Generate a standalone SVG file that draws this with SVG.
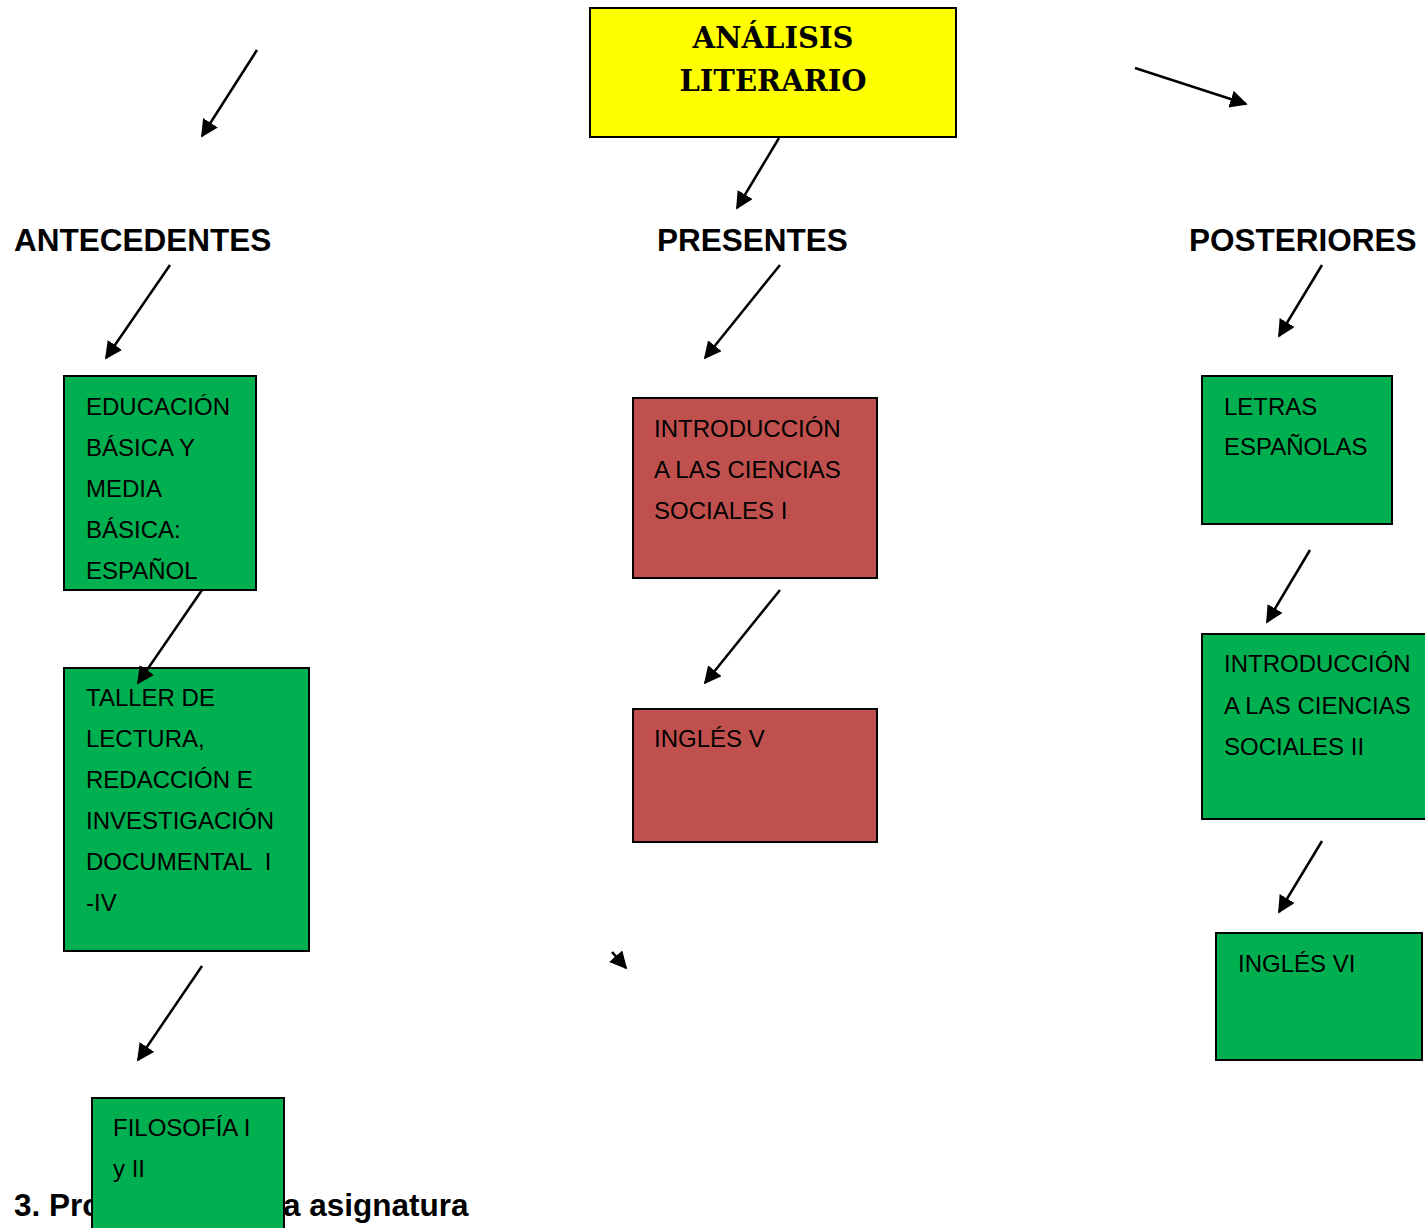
<svg xmlns="http://www.w3.org/2000/svg" width="1425" height="1228" viewBox="0 0 1425 1228">
<defs>
<style>
.box{stroke:#000;stroke-width:2}
.green{fill:#00B050}
.red{fill:#C0504D}
.yellow{fill:#FFFF00}
.t{font-family:"Liberation Sans",Arial,sans-serif;font-size:24px;fill:#000}
.h{font-family:"Liberation Sans",Arial,sans-serif;font-size:31.5px;font-weight:bold;fill:#000}
.title{font-family:"DejaVu Serif","Liberation Serif",serif;font-size:29px;font-weight:bold;fill:#000;text-anchor:middle}
.c line{stroke:#000;stroke-width:2.5;marker-end:url(#ah)}
</style>
<marker id="ah" viewBox="0 0 10 10" refX="9" refY="5" markerWidth="7" markerHeight="7" orient="auto" markerUnits="strokeWidth">
<path d="M0,0 L10,5 L0,10 z" fill="#000"/>
</marker>
</defs>
<rect width="1425" height="1228" fill="#fff"/>

<text class="h" x="14" y="1216">3. Pro</text>
<text class="h" x="283" y="1216">a asignatura</text>

<g id="analisis">
<rect class="box yellow" x="590" y="8" width="366" height="129"/>
<text class="title" x="773" y="48">ANÁLISIS</text>
<text class="title" x="773" y="91">LITERARIO</text>
</g>

<g id="antecedentes"><text class="h" x="14" y="251">ANTECEDENTES</text></g>
<g id="presentes"><text class="h" x="657" y="251">PRESENTES</text></g>
<g id="posteriores"><text class="h" x="1189" y="251">POSTERIORES</text></g>

<g id="educacion">
<rect class="box green" x="64" y="376" width="192" height="214"/>
<text class="t" x="86" y="415">EDUCACIÓN</text>
<text class="t" x="86" y="456">BÁSICA Y</text>
<text class="t" x="86" y="497">MEDIA</text>
<text class="t" x="86" y="538">BÁSICA:</text>
<text class="t" x="86" y="579">ESPAÑOL</text>
</g>

<g id="taller">
<rect class="box green" x="64" y="668" width="245" height="283"/>
<text class="t" x="86" y="706">TALLER DE</text>
<text class="t" x="86" y="747">LECTURA,</text>
<text class="t" x="86" y="788">REDACCIÓN E</text>
<text class="t" x="86" y="829">INVESTIGACIÓN</text>
<text class="t" x="86" y="870" xml:space="preserve">DOCUMENTAL  I</text>
<text class="t" x="86" y="911">-IV</text>
</g>

<g id="filosofia">
<rect class="box green" x="92" y="1098" width="192" height="140"/>
<text class="t" x="113" y="1136">FILOSOFÍA I</text>
<text class="t" x="113" y="1177">y II</text>
</g>

<g id="intro1">
<rect class="box red" x="633" y="398" width="244" height="180"/>
<text class="t" x="654" y="437">INTRODUCCIÓN</text>
<text class="t" x="654" y="478">A LAS CIENCIAS</text>
<text class="t" x="654" y="519">SOCIALES I</text>
</g>

<g id="ingles5">
<rect class="box red" x="633" y="709" width="244" height="133"/>
<text class="t" x="654" y="747">INGLÉS V</text>
</g>

<g id="letras">
<rect class="box green" x="1202" y="376" width="190" height="148"/>
<text class="t" x="1224" y="415">LETRAS</text>
<text class="t" x="1224" y="455">ESPAÑOLAS</text>
</g>

<g id="intro2">
<rect class="box green" x="1202" y="634" width="230" height="185"/>
<text class="t" x="1224" y="672">INTRODUCCIÓN</text>
<text class="t" x="1224" y="714">A LAS CIENCIAS</text>
<text class="t" x="1224" y="755">SOCIALES II</text>
</g>

<g id="ingles6">
<rect class="box green" x="1216" y="933" width="206" height="127"/>
<text class="t" x="1238" y="972">INGLÉS VI</text>
</g>

<g id="connectors" class="c">
<line x1="257" y1="50" x2="202" y2="136"/>
<line x1="1135" y1="68" x2="1246" y2="104"/>
<line x1="779" y1="138" x2="737" y2="208"/>
<line x1="170" y1="265" x2="106" y2="358"/>
<line x1="780" y1="265" x2="705" y2="358"/>
<line x1="1322" y1="265" x2="1279" y2="336"/>
<line x1="202" y1="590" x2="138" y2="683"/>
<line x1="202" y1="966" x2="138" y2="1060"/>
<line x1="780" y1="590" x2="705" y2="683"/>
<line x1="612" y1="952" x2="626" y2="968"/>
<line x1="1310" y1="550" x2="1267" y2="622"/>
<line x1="1322" y1="841" x2="1279" y2="912"/>
</g>
</svg>
